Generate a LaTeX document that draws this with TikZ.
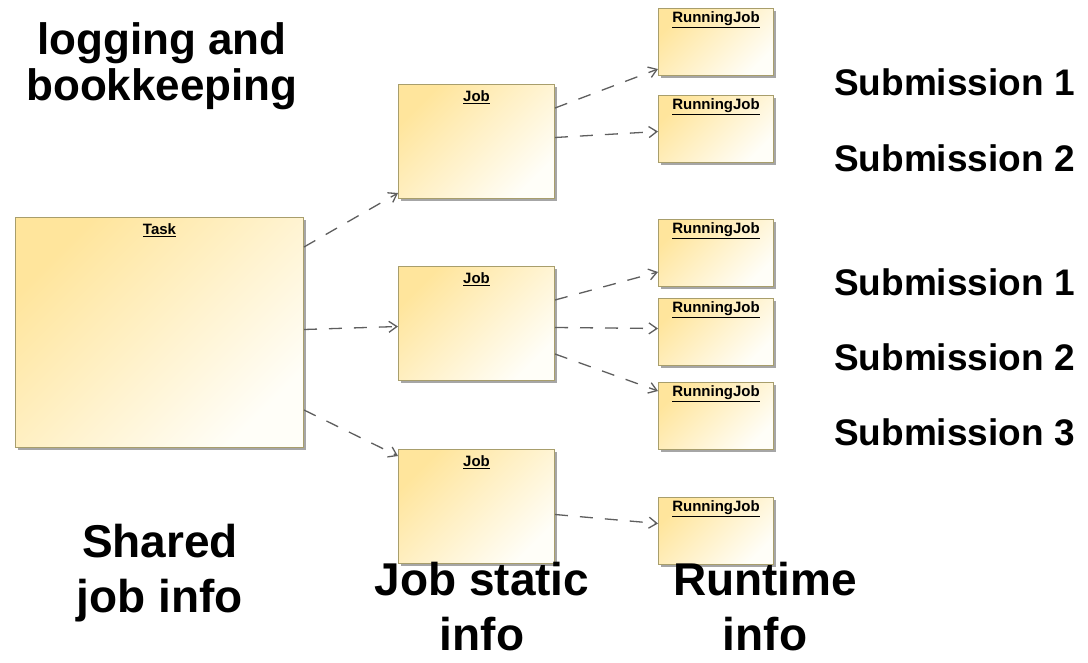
\documentclass[tikz,border=0pt]{standalone}
\usepackage{fontspec}
\setmainfont{Liberation Sans}
\usetikzlibrary{arrows.meta,shadows}

\definecolor{boxline}{HTML}{A89E6C}
\definecolor{boxwarm}{HTML}{FFE59C}
\definecolor{boxpale}{HTML}{FFFEF8}
\definecolor{linkgray}{HTML}{5E5E5E}

\tikzset{
  umlbox/.style={draw=boxline, line width=1pt, anchor=north west, inner sep=0pt,
    top color=boxwarm, bottom color=boxpale, shading angle=45,
    drop shadow={shadow xshift=2.5pt, shadow yshift=-2.5pt, fill=black!35, opacity=1}},
  jobbox/.style={umlbox, minimum width=156pt, minimum height=114pt},
  runbox/.style={umlbox, minimum width=115pt, minimum height=67pt},
  boxtitle/.style={inner sep=0pt, font=\fontsize{15}{15}\selectfont\bfseries},
  link/.style={draw=linkgray, line width=1.3pt, dash pattern=on 13pt off 12pt,
    -{Straight Barb[length=8pt,width=11pt]}},
  biglabel/.style={inner sep=0pt, anchor=north, align=center,
    font=\fontsize{46}{55}\selectfont\bfseries},
  sublabel/.style={inner sep=0pt, anchor=base west,
    font=\fontsize{37}{37}\selectfont\bfseries}
}

\begin{document}
\begin{tikzpicture}[x=1pt,y=-1pt]
\useasboundingbox (0,0) rectangle (1088,662);

% task and jobs
\node[umlbox, minimum width=288pt, minimum height=230pt] (task) at (15,217) {};
\node[jobbox] (job1) at (398,84) {};
\node[jobbox] (job2) at (398,266) {};
\node[jobbox] (job3) at (398,449) {};

% running jobs
\node[runbox] (rj1) at (658,8) {};
\node[runbox] (rj2) at (658,95) {};
\node[runbox] (rj3) at (658,219) {};
\node[runbox] (rj4) at (658,297.5) {};
\node[runbox] (rj5) at (658,382) {};
\node[runbox] (rj6) at (658,497) {};

% box titles
\node[boxtitle] (task-t) at ([yshift=-13pt]task.north) {\underline{Task}};
\foreach \b in {job1,job2,job3}
  \node[boxtitle] (\b-t) at ([yshift=-13pt]\b.north) {\underline{Job}};
\foreach \b in {rj1,rj2,rj3,rj4,rj5,rj6}
  \node[boxtitle] (\b-t) at ([yshift=-12pt]\b.north) {\underline{RunningJob}};

% dependencies
\draw[link] ([yshift=-30pt]task.north east) -- ([yshift=6pt]job1.south west);
\draw[link] ([yshift=3pt]task.east) -- ([yshift=-3pt]job2.west);
\draw[link] ([yshift=38pt]task.south east) -- ([yshift=-7pt]job3.north west);
\draw[link] ([yshift=-24pt]job1.north east) -- ([yshift=7pt]rj1.south west);
\draw[link] ([yshift=4pt]job1.east) -- ([yshift=-2.5pt]rj2.west);
\draw[link] ([yshift=-34pt]job2.north east) -- ([yshift=15pt]rj3.south west);
\draw[link] ([yshift=-4pt]job2.east) -- ([yshift=3pt]rj4.west);
\draw[link] ([yshift=27pt]job2.south east) -- ([yshift=-9pt]rj5.north west);
\draw[link] ([yshift=-8pt]job3.east) -- ([yshift=7.5pt]rj6.west);

% annotations
\node[biglabel, font=\fontsize{44}{46}\selectfont\bfseries] (logging) at (162,22) {logging and\\bookkeeping};
\node[biglabel] (shared) at (160,523.5) {Shared\\job info};
\node[biglabel] (static) at (482,562) {Job static\\info};
\node[biglabel] (runtime) at (765,562) {Runtime\\info};

\node[sublabel] (s11) at (834,95) {Submission 1};
\node[sublabel] (s12) at (834,171) {Submission 2};
\node[sublabel] (s21) at (834,295) {Submission 1};
\node[sublabel] (s22) at (834,370) {Submission 2};
\node[sublabel] (s23) at (834,445) {Submission 3};
\end{tikzpicture}
\end{document}
